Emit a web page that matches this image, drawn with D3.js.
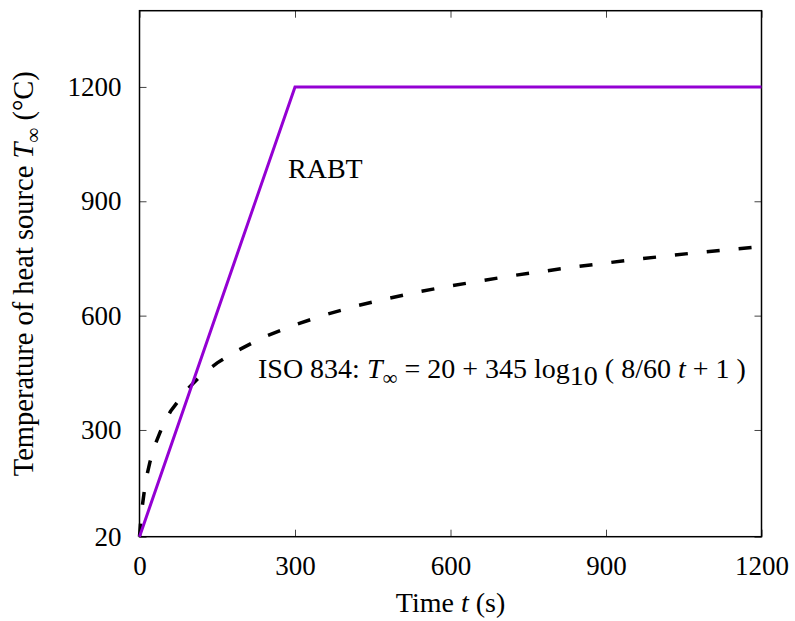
<!DOCTYPE html>
<html>
<head>
<meta charset="utf-8">
<script src="https://cdn.jsdelivr.net/npm/d3@7"></script>
<style>
  body { margin: 0; background: #fff; }
  svg text { font-family: "Liberation Serif", "Times New Roman", serif; fill: #000; }
  .tick line { stroke: #444; stroke-width: 1; }
  .tick text { font-size: 27px; font-family: "Liberation Serif", "Times New Roman", serif; }
</style>
</head>
<body>
<div id="chart"></div>
<script>
// RABT curve (time s, temperature degC)
const rabtTime = [0, 300, 1200];
const rabtTemp = [20, 1200, 1200];

// ISO 834 curve
const isoTime = [0, 2, 5, 10, 15, 20, 30, 45, 60, 90, 120, 150, 180, 240, 300,
  360, 420, 480, 540, 600, 720, 840, 960, 1080, 1200];
const isoTemp = [20, 55, 96, 147, 185, 215, 261, 312, 349, 404, 445, 476, 502, 544, 576,
  603, 626, 645, 663, 678, 705, 728, 748, 766, 781];

const xTicks = [0, 300, 600, 900, 1200];
const yTicks = [20, 300, 600, 900, 1200];

const width = 795, height = 621;
const margin = { top: 10.7, right: 33.5, bottom: 84.3, left: 139.5 };
const innerW = width - margin.left - margin.right;
const innerH = height - margin.top - margin.bottom;
const serif = '"Liberation Serif", "Times New Roman", serif';

const svg = d3.select('#chart').append('svg')
  .attr('width', width)
  .attr('height', height);

const g = svg.append('g')
  .attr('transform', `translate(${margin.left}, ${margin.top})`);

const x = d3.scaleLinear().domain([0, 1200]).range([0, innerW]);
const y = d3.scaleLinear().domain([20, 1400]).range([innerH, 0]);

// axes: ticks point inwards, mirrored on top and right
g.append('g')
  .attr('transform', `translate(0, ${innerH})`)
  .call(d3.axisBottom(x).tickValues(xTicks).tickFormat(d3.format('d'))
    .tickSize(-7).tickSizeOuter(0).tickPadding(19))
  .attr('font-family', serif).attr('font-size', 27)
  .call(a => a.select('.domain').remove());

g.append('g')
  .call(d3.axisLeft(y).tickValues(yTicks).tickFormat(d3.format('d'))
    .tickSize(-7).tickSizeOuter(0).tickPadding(18))
  .attr('font-family', serif).attr('font-size', 27)
  .call(a => a.select('.domain').remove());

g.append('g')
  .call(d3.axisTop(x).tickValues(xTicks).tickSize(-7).tickSizeOuter(0).tickFormat(''))
  .call(a => a.select('.domain').remove());

g.append('g')
  .attr('transform', `translate(${innerW}, 0)`)
  .call(d3.axisRight(y).tickValues(yTicks).tickSize(-7).tickSizeOuter(0).tickFormat(''))
  .call(a => a.select('.domain').remove());

g.append('rect')
  .attr('width', innerW)
  .attr('height', innerH)
  .attr('fill', 'none')
  .attr('stroke', '#000')
  .attr('stroke-width', 1.5);

const line = d3.line()
  .x(d => x(d[0]))
  .y(d => y(d[1]));

// ISO 834 dashed
g.append('path')
  .datum(d3.zip(isoTime, isoTemp))
  .attr('d', line)
  .attr('fill', 'none')
  .attr('stroke', '#000')
  .attr('stroke-width', 3.5)
  .attr('stroke-dasharray', '13,19');

// RABT
g.append('path')
  .datum(d3.zip(rabtTime, rabtTemp))
  .attr('d', line)
  .attr('fill', 'none')
  .attr('stroke', '#9400d3')
  .attr('stroke-width', 3);

// labels
svg.append('text')
  .attr('x', 288)
  .attr('y', 178)
  .style('font-size', '28px')
  .text('RABT');

const iso = svg.append('text')
  .attr('x', 258)
  .attr('y', 378)
  .style('font-size', '28px');
iso.append('tspan').text('ISO 834: ');
iso.append('tspan').style('font-style', 'italic').text('T');
iso.append('tspan').attr('dy', 7).style('font-size', '21px').text('∞');
iso.append('tspan').attr('dy', -7).text(' = 20 + 345 log');
iso.append('tspan').attr('dy', 7).text('10');
iso.append('tspan').attr('dy', -7).text(' ( 8/60 ');
iso.append('tspan').style('font-style', 'italic').text('t');
iso.append('tspan').text(' + 1 )');

const xl = svg.append('text')
  .attr('x', margin.left + innerW / 2)
  .attr('y', 612)
  .attr('text-anchor', 'middle')
  .style('font-size', '28px');
xl.append('tspan').text('Time ');
xl.append('tspan').style('font-style', 'italic').text('t');
xl.append('tspan').text(' (s)');

const yl = svg.append('text')
  .attr('transform', `translate(33, ${margin.top + innerH / 2}) rotate(-90)`)
  .attr('text-anchor', 'middle')
  .style('font-size', '28.5px');
yl.append('tspan').text('Temperature of heat source ');
yl.append('tspan').style('font-style', 'italic').text('T');
yl.append('tspan').attr('dy', 7).style('font-size', '21px').text('∞');
yl.append('tspan').attr('dy', -7).text(' (°C)');
</script>
</body>
</html>
